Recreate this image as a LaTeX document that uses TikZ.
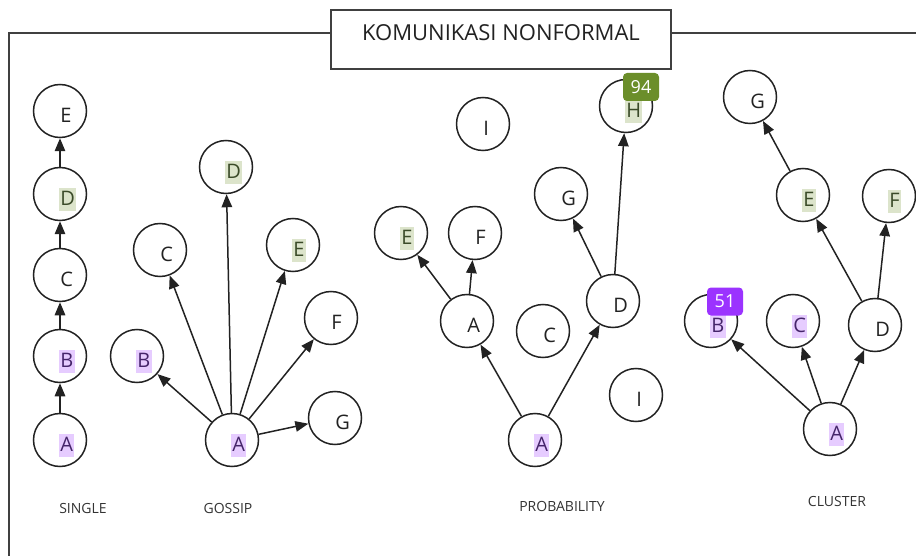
\documentclass[tikz,border=0pt]{standalone}
\usepackage{fontspec}
\setmainfont{Open Sans}
\usepackage{xcolor}
\usetikzlibrary{arrows.meta,calc}
\definecolor{ink}{HTML}{222222}
\definecolor{inkP}{HTML}{45256A}
\definecolor{inkG}{HTML}{3A4A28}
\definecolor{hlP}{HTML}{E6CCFF}
\definecolor{hlG}{HTML}{DCE4CB}
\definecolor{bdgG}{HTML}{6B8E2A}
\definecolor{bdgP}{HTML}{9B33FF}
\tikzset{
  nd/.style={circle, draw=ink, line width=1.5pt, minimum size=53pt, inner sep=0pt},
  lt/.style={anchor=base west, inner xsep=1.2pt, inner ysep=0pt, text height=17.5pt, text depth=5.5pt, text=ink, font=\fontsize{20}{20}\selectfont},
  ltP/.style={lt, fill=hlP, text=inkP},
  ltG/.style={lt, fill=hlG, text=inkG},
  arr/.style={-{Triangle[length=13pt, width=10.5pt]}, line width=1.5pt, ink},
  frm/.style={line width=1.5pt, draw=black!75},
  ttl/.style={draw=black!75, line width=1.5pt, minimum width=340pt, minimum height=59pt, text height=16pt, text depth=13pt, text=ink, font=\fontsize{22}{22}\selectfont},
  grp/.style={text=black!80, font=\fontsize{14}{14}\selectfont},
  badge/.style={rounded corners=4pt, minimum width=36pt, minimum height=28pt, inner sep=0pt, text=white, font=\fontsize{18}{18}\selectfont},
}

\begin{document}
\begin{tikzpicture}[x=1pt, y=-1pt]
\useasboundingbox (0,0) rectangle (916,556);
% --- frame and title ---
\node[ttl] (ttl) at (501,39.5) {KOMUNIKASI NONFORMAL};
\coordinate (fbot) at (9,556);
\coordinate (ftop) at (9,33);
\coordinate (fright) at (916,33);
\draw[frm] (fbot) -- (ftop) -- (ttl.west |- ftop);
\draw[frm] (ttl.east |- ftop) -- (fright);
% --- Single: chain A -> E ---
\node[nd] (sA) at (60,440) {};
\node[nd] (sB) at (60,356) {};
\node[nd] (sC) at (60,275) {};
\node[nd] (sD) at (60,194) {};
\node[nd] (sE) at (60,111) {};
\node[ltP] (sAt) at ($(sA)+(-1,11.5)$) {A};
\node[ltP] (sBt) at ($(sB)+(-1,11.5)$) {B};
\node[lt]  (sCt) at ($(sC)+(-1,11.5)$) {C};
\node[ltG] (sDt) at ($(sD)+(-1,11.5)$) {D};
\node[lt]  (sEt) at ($(sE)+(-1,11.5)$) {E};
\draw[arr] (sA) -- (sB);
\draw[arr] (sB) -- (sC);
\draw[arr] (sC) -- (sD);
\draw[arr] (sD) -- (sE);
\node[grp] (single) at (83,508) {SINGLE};
% --- Gossip: A tells everyone ---
\node[nd] (gA) at (232,440) {};
\node[nd] (gB) at (137,356) {};
\node[nd] (gC) at (160,250) {};
\node[nd] (gD) at (226,167) {};
\node[nd] (gE) at (293,245) {};
\node[nd] (gF) at (331,318) {};
\node[nd] (gG) at (335,418) {};
\node[ltP] (gAt) at ($(gA)+(-1,11.5)$) {A};
\node[ltP] (gBt) at ($(gB)+(-1,11.5)$) {B};
\node[lt]  (gCt) at ($(gC)+(-1,11.5)$) {C};
\node[ltG] (gDt) at ($(gD)+(-1,11.5)$) {D};
\node[ltG] (gEt) at ($(gE)+(-1,11.5)$) {E};
\node[lt]  (gFt) at ($(gF)+(-1,11.5)$) {F};
\node[lt]  (gGt) at ($(gG)+(-1,11.5)$) {G};
\draw[arr] (gA) -- (gB);
\draw[arr] (gA) -- (gC);
\draw[arr] (gA) -- (gD);
\draw[arr] (gA) -- (gE);
\draw[arr] (gA) -- (gF);
\draw[arr] (gA) -- (gG);
\node[grp] (gossip) at (228,508) {GOSSIP};
% --- Probability: random spread ---
\node[nd] (pA)  at (535,440) {};
\node[nd] (pA2) at (467,321) {};
\node[nd] (pE)  at (401,233) {};
\node[nd] (pF)  at (475,233) {};
\node[nd] (pG)  at (561,194) {};
\node[nd] (pH)  at (626,106) {};
\node[nd] (pD)  at (613,301) {};
\node[nd] (pC)  at (543,331) {};
\node[nd] (pI)  at (483,124) {};
\node[nd] (pI2) at (636,395) {};
\node[ltP] (pAt)  at ($(pA)+(-1,11.5)$)  {A};
\node[lt]  (pA2t) at ($(pA2)+(-1,11.5)$) {A};
\node[ltG] (pEt)  at ($(pE)+(-1,11.5)$)  {E};
\node[lt]  (pFt)  at ($(pF)+(-1,11.5)$)  {F};
\node[lt]  (pGt)  at ($(pG)+(-1,11.5)$)  {G};
\node[ltG] (pHt)  at ($(pH)+(-1,11.5)$)  {H};
\node[lt]  (pDt)  at ($(pD)+(-1,11.5)$)  {D};
\node[lt]  (pCt)  at ($(pC)+(-1,11.5)$)  {C};
\node[lt]  (pIt)  at ($(pI)+(-1,11.5)$)  {I};
\node[lt]  (pI2t) at ($(pI2)+(-1,11.5)$) {I};
\draw[arr] (pA) -- (pA2);
\draw[arr] (pA) -- (pD);
\draw[arr] (pA2) -- (pE);
\draw[arr] (pA2) -- (pF);
\draw[arr] (pD) -- (pG);
\draw[arr] (pD) -- (pH);
\node[badge, fill=bdgG] (b94) at (641,87) {94};
\node[grp] (prob) at (562,506) {PROBABILITY};
% --- Cluster ---
\node[nd] (cA) at (830,429) {};
\node[nd] (cB) at (711,321) {};
\node[nd] (cC) at (793,321) {};
\node[nd] (cD) at (875,325) {};
\node[nd] (cE) at (803,195) {};
\node[nd] (cF) at (889,196) {};
\node[nd] (cG) at (750,97) {};
\node[ltP] (cAt) at ($(cA)+(-1,11.5)$) {A};
\node[ltP] (cBt) at ($(cB)+(-1,11.5)$) {B};
\node[ltP] (cCt) at ($(cC)+(-1,11.5)$) {C};
\node[lt]  (cDt) at ($(cD)+(-1,11.5)$) {D};
\node[ltG] (cEt) at ($(cE)+(-1,11.5)$) {E};
\node[ltG] (cFt) at ($(cF)+(-1,11.5)$) {F};
\node[lt]  (cGt) at ($(cG)+(-1,11.5)$) {G};
\draw[arr] (cA) -- (cB);
\draw[arr] (cA) -- (cC);
\draw[arr] (cA) -- (cD);
\draw[arr] (cD) -- (cE);
\draw[arr] (cD) -- (cF);
\draw[arr] (cE) -- (cG);
\node[badge, fill=bdgP] (b51) at (725,301.5) {51};
\node[grp] (cluster) at (837,501) {CLUSTER};
\end{tikzpicture}
\end{document}
